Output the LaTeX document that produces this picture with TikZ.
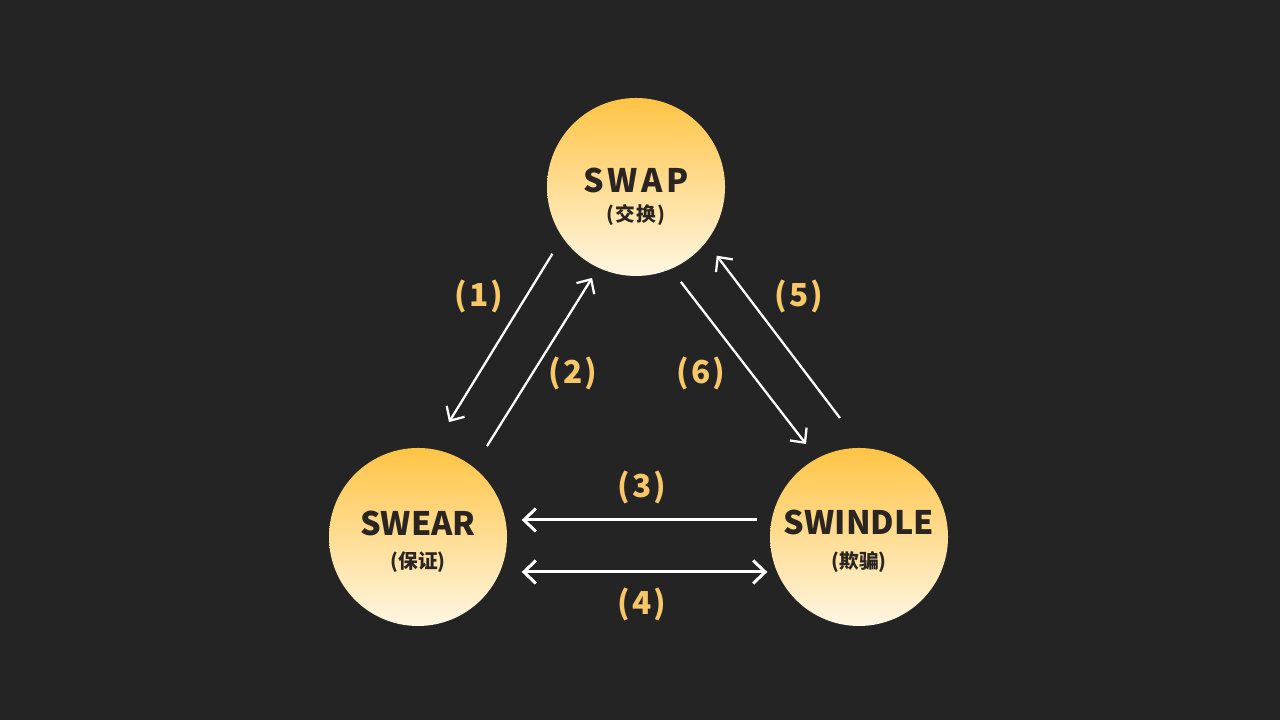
\documentclass[tikz,border=0pt]{standalone}
\usepackage{fontspec}
\setmainfont{Noto Sans CJK SC}
\definecolor{bgDark}{HTML}{242424}
\definecolor{sunTop}{HTML}{FFC445}
\definecolor{sunBottom}{HTML}{FFF6E3}
\definecolor{numGold}{HTML}{F7C768}
\definecolor{inkDark}{HTML}{2A2520}
\usetikzlibrary{arrows.meta,positioning,calc}

\begin{document}
\begin{tikzpicture}[
    ball/.style={circle, minimum size=1.78cm, inner sep=0pt, top color=sunTop, bottom color=sunBottom},
    title/.style={inkDark, font=\fontsize{9.2}{11}\selectfont\bfseries},
    sub/.style={inkDark, font=\fontsize{5.6}{7}\selectfont\bfseries},
    flow/.style={white, line width=0.65pt, -{Straight Barb[length=1.1mm,width=2.1mm]}},
    flat/.style={white, line width=0.85pt},
    num/.style={numGold, font=\fontsize{9}{10}\selectfont\bfseries\addfontfeatures{LetterSpace=7}}]
    % background
    \fill[bgDark] (0,0) rectangle (12.8,7.2);

    % the three circles
    \node[ball] (swap) at (6.36,5.33) {};
    \node[ball] (swear) at (4.18,1.83) {};
    \node[ball] (swindle) at (8.59,1.83) {};

    \node[title] (swapname) at ($(swap)+(0,0.07)$) {\addfontfeatures{LetterSpace=11}SWAP};
    \node[sub] (swapsub) at ($(swap)+(0,-0.28)$) {\addfontfeatures{LetterSpace=6}(交换)};
    \node[title] (swearname) at ($(swear)+(0,0.14)$) {SWEAR};
    \node[sub] (swearsub) at ($(swear)+(0,-0.25)$) {(保证)};
    \node[title] (swindlename) at ($(swindle)+(0,0.15)$) {SWINDLE};
    \node[sub] (swindlesub) at ($(swindle)+(0,-0.25)$) {(欺骗)};

    % diagonal flows
    \draw[flow] ($(swap)+(218.6:1.07)$) -- ($(swear)+(74.9:1.19)$);
    \draw[flow] ($(swear)+(52.8:1.14)$) -- ($(swap)+(244.2:1.01)$);
    \draw[flow] ($(swap)+(295.3:1.05)$) -- ($(swindle)+(119.7:1.07)$);
    \draw[flow] ($(swindle)+(99.1:1.205)$) -- ($(swap)+(319.6:1.06)$);

    % horizontal flows
    \draw[flat, -{Straight Barb[length=1.2mm,width=2.3mm]}] ($(swindle.west)+(-0.12,0.17)$) -- ($(swear.east)+(0.14,0.17)$);
    \draw[flat, {Straight Barb[length=1.2mm,width=2.3mm]}-{Straight Barb[length=1.2mm,width=2.3mm]}] ($(swear.east)+(0.14,-0.35)$) -- ($(swindle.west)+(-0.02,-0.35)$);

    % step numbers
    \node[num] (n1) at (4.79,4.24) {(1)};
    \node[num] (n2) at (5.73,3.47) {(2)};
    \node[num] (n3) at (6.42,2.33) {(3)};
    \node[num] (n4) at (6.42,1.16) {(4)};
    \node[num] (n5) at (7.99,4.24) {(5)};
    \node[num] (n6) at (7.01,3.47) {(6)};
\end{tikzpicture}
\end{document}
